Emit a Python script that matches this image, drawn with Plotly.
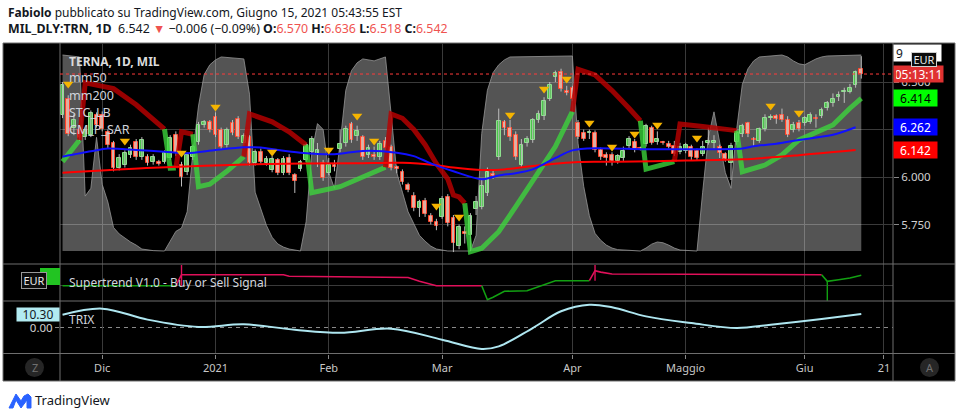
import plotly.graph_objects as go
import pandas as pd

W, H = 962, 418
def px(x): return x / W
def py(y): return 1 - y / H

# ---------------- calendar / ticks ----------------
holidays = ["2020-12-24", "2020-12-25", "2020-12-31", "2021-01-01", "2021-04-02", "2021-04-05"]
cal = [d.strftime("%Y-%m-%d") for d in pd.bdate_range("2020-11-20", "2021-06-21")
       if d.strftime("%Y-%m-%d") not in holidays]
last_day = "2021-06-15"
tick_dates = ["2020-12-01", "2021-01-04", "2021-02-01", "2021-03-01", "2021-04-01", "2021-05-03", "2021-06-01", "2021-06-21"]
tick_labels = ["Dic", "2021", "Feb", "Mar", "Apr", "Maggio", "Giu", "21"]
price_ticks = [5.75, 6.0, 6.25, 6.5]
price_tick_text = ["5.750", "6.000", "", "6.500"]   # 6.250 is hidden behind the mm50 label

# ---------------- OHLC (TERNA, 1D) ----------------
opens = [6.326, 6.411, 6.258, 6.247, 6.211, 6.221, 6.326, 6.326, 6.237, 6.179,
         6.047, 6.063, 6.116, 6.184, 6.105, 6.105, 6.079, 6.079, 6.079, 6.100,
         6.221, 6.063, 6.026, 6.105, 6.184, 6.274, 6.289, 6.316, 6.247, 6.168,
         6.284, 6.305, 6.179, 6.211, 6.074, 6.132, 6.074, 6.037, 6.089, 6.021,
         6.100, 6.011, 6.042, 6.089, 6.132, 6.116, 6.074, 6.021, 6.063, 6.147,
         6.179, 6.279, 6.216, 6.211, 6.116, 6.116, 6.105, 6.189, 6.158, 6.053,
         6.026, 5.958, 5.900, 5.837, 5.874, 5.795, 5.763, 5.789, 5.895, 5.784,
         5.637, 5.711, 5.695, 5.832, 5.842, 5.916, 6.016, 6.105, 6.289, 6.258,
         6.221, 6.063, 6.179, 6.195, 6.300, 6.321, 6.411, 6.526, 6.553, 6.453,
         6.468, 6.284, 6.232, 6.232, 6.232, 6.142, 6.116, 6.116, 6.084, 6.100,
         6.163, 6.184, 6.153, 6.174, 6.258, 6.184, 6.184, 6.174, 6.163, 6.132,
         6.137, 6.158, 6.137, 6.121, 6.179, 6.179, 6.158, 6.121, 6.074, 6.184,
         6.226, 6.284, 6.200, 6.189, 6.253, 6.311, 6.321, 6.326, 6.300, 6.247,
         6.284, 6.284, 6.289, 6.311, 6.321, 6.363, 6.389, 6.421, 6.447, 6.447,
         6.484, 6.570]
closes = [6.484, 6.226, 6.300, 6.205, 6.247, 6.337, 6.274, 6.253, 6.168, 6.047,
          6.100, 6.126, 6.153, 6.105, 6.195, 6.074, 6.105, 6.068, 6.126, 6.205,
          6.126, 6.000, 6.116, 6.158, 6.274, 6.289, 6.247, 6.221, 6.158, 6.247,
          6.232, 6.211, 6.216, 6.074, 6.132, 6.079, 6.095, 6.095, 6.021, 6.095,
          6.021, 5.979, 6.079, 6.168, 6.200, 6.142, 5.995, 6.063, 6.053, 6.174,
          6.253, 6.195, 6.242, 6.105, 6.153, 6.105, 6.174, 6.153, 6.047, 6.042,
          5.974, 5.932, 5.837, 5.868, 5.805, 5.763, 5.742, 5.884, 5.758, 5.653,
          5.737, 5.700, 5.795, 5.868, 5.953, 6.026, 6.005, 6.295, 6.258, 6.211,
          6.105, 6.168, 6.200, 6.300, 6.332, 6.400, 6.484, 6.547, 6.463, 6.442,
          6.411, 6.211, 6.200, 6.237, 6.142, 6.105, 6.100, 6.084, 6.111, 6.137,
          6.200, 6.147, 6.147, 6.268, 6.179, 6.200, 6.179, 6.158, 6.121, 6.158,
          6.168, 6.105, 6.100, 6.158, 6.189, 6.189, 6.126, 6.095, 6.163, 6.232,
          6.268, 6.226, 6.195, 6.253, 6.311, 6.316, 6.305, 6.300, 6.221, 6.274,
          6.253, 6.311, 6.326, 6.305, 6.353, 6.389, 6.411, 6.432, 6.453, 6.468,
          6.553, 6.542]
highs = [6.50, 6.43, 6.33, 6.27, 6.26, 6.35, 6.34, 6.345, 6.25, 6.19,
         6.12, 6.14, 6.17, 6.20, 6.21, 6.12, 6.12, 6.09, 6.14, 6.22,
         6.24, 6.08, 6.13, 6.17, 6.29, 6.30, 6.30, 6.34, 6.26, 6.26,
         6.30, 6.32, 6.23, 6.22, 6.145, 6.15, 6.11, 6.11, 6.10, 6.11,
         6.12, 6.02, 6.09, 6.18, 6.215, 6.179, 6.09, 6.10, 6.09, 6.25,
         6.27, 6.29, 6.27, 6.22, 6.17, 6.16, 6.19, 6.21, 6.17, 6.06,
         6.04, 5.97, 5.92, 5.88, 5.89, 5.81, 5.78, 5.90, 5.91, 5.80,
         5.75, 5.74, 5.81, 5.90, 5.99, 6.05, 6.04, 6.36, 6.30, 6.30,
         6.24, 6.20, 6.215, 6.31, 6.35, 6.42, 6.50, 6.56, 6.57, 6.48,
         6.48, 6.30, 6.25, 6.25, 6.245, 6.155, 6.13, 6.13, 6.12, 6.16,
         6.215, 6.20, 6.16, 6.28, 6.27, 6.24, 6.19, 6.19, 6.19, 6.18,
         6.18, 6.17, 6.15, 6.19, 6.26, 6.22, 6.17, 6.13, 6.18, 6.245,
         6.28, 6.29, 6.21, 6.26, 6.33, 6.33, 6.33, 6.36, 6.32, 6.29,
         6.30, 6.32, 6.34, 6.33, 6.365, 6.40, 6.44, 6.45, 6.47, 6.49,
         6.56, 6.636]
lows = [6.31, 6.215, 6.22, 6.19, 6.195, 6.21, 6.26, 6.24, 6.15, 6.03,
        6.035, 6.05, 6.10, 6.09, 6.09, 6.06, 6.065, 6.06, 6.07, 6.09,
        6.11, 5.95, 6.01, 6.09, 6.17, 6.26, 6.235, 6.21, 6.145, 6.155,
        6.22, 6.20, 6.165, 6.06, 6.06, 6.07, 6.06, 6.025, 6.01, 6.01,
        6.01, 5.916, 6.03, 6.08, 6.12, 6.053, 5.98, 6.01, 6.03, 6.13,
        6.16, 6.18, 6.19, 6.09, 6.10, 6.09, 6.09, 6.14, 6.035, 6.02,
        5.96, 5.92, 5.82, 5.79, 5.79, 5.75, 5.72, 5.78, 5.74, 5.605,
        5.62, 5.65, 5.61, 5.80, 5.83, 5.90, 5.99, 6.09, 6.22, 6.19,
        6.09, 6.05, 6.16, 6.18, 6.285, 6.30, 6.40, 6.50, 6.45, 6.43,
        6.40, 6.20, 6.19, 6.20, 6.13, 6.09, 6.06, 6.06, 6.07, 6.085,
        6.15, 6.13, 6.14, 6.16, 6.17, 6.17, 6.17, 6.15, 6.11, 6.12,
        6.125, 6.09, 6.09, 6.11, 6.17, 6.15, 6.10, 6.08, 5.984, 6.17,
        6.21, 6.21, 6.16, 6.18, 6.24, 6.30, 6.28, 6.29, 6.21, 6.235,
        6.24, 6.27, 6.28, 6.26, 6.31, 6.35, 6.37, 6.40, 6.39, 6.44,
        6.47, 6.518]

# ---------------- indicators (bar index, value) ----------------
mm50_idx = [0, 5, 8, 13, 18, 22, 27, 32, 35, 38, 42, 48, 53, 59, 62, 65, 69, 74, 77, 80, 83, 87, 90, 94, 103, 112, 120, 122, 126, 130, 136, 140]
mm50_val = [6.107, 6.135, 6.150, 6.142, 6.133, 6.125, 6.142, 6.156, 6.155, 6.142, 6.128, 6.120, 6.137, 6.128, 6.110, 6.072, 6.030, 5.988, 6.008, 6.020, 6.040, 6.100, 6.140, 6.151, 6.146, 6.146, 6.150, 6.162, 6.175, 6.195, 6.222, 6.262]

mm200_idx = [0, 16, 34, 52, 60, 66, 69, 74, 78, 83, 91, 98, 110, 120, 130, 140]
mm200_val = [6.023, 6.049, 6.067, 6.073, 6.075, 6.062, 6.050, 6.037, 6.040, 6.058, 6.079, 6.080, 6.087, 6.093, 6.115, 6.142]

# CM_P_SAR trailing line: direction 1 = bullish (green), -1 = bearish (red)
sar_idx = [0, 3, 4, 9, 13, 18, 19, 20, 21, 23, 24, 26, 29, 32, 33, 37, 40, 43, 44, 49, 57,
           58, 60, 62, 64, 66, 68, 69, 70, 71, 72, 74, 77, 80, 83, 87, 90,
           91, 94, 97, 100, 102, 103, 108, 109, 113, 119, 120, 124, 127, 130, 136, 139, 141]
sar_val = [6.081, 6.195, 6.496, 6.465, 6.380, 6.252, 6.046, 6.047, 6.238, 6.225, 5.949, 5.962, 6.030, 6.107,
           6.332, 6.290, 6.238, 6.168, 5.917, 5.949, 6.051,
           6.332, 6.309, 6.250, 6.170, 6.070, 5.990, 5.905, 5.895, 5.862, 5.607, 5.625, 5.712, 5.844, 5.984, 6.160, 6.344,
           6.567, 6.537, 6.455, 6.362, 6.296, 6.041, 6.081, 6.279, 6.266, 6.244, 6.028, 6.063, 6.116, 6.195, 6.274, 6.362, 6.414]
sar_dir = [1, 1, -1, -1, -1, -1, 1, 1, -1, -1, 1, 1, 1, 1, -1, -1, -1, -1, 1, 1, 1,
           -1, -1, -1, -1, -1, -1, -1, -1, -1, 1, 1, 1, 1, 1, 1, 1,
           -1, -1, -1, -1, -1, 1, 1, -1, -1, -1, 1, 1, 1, 1, 1, 1, 1]

# STC_LB oscillator (0..100)
stc_idx = [0, 3, 4, 5, 6, 7, 8, 9, 10, 11, 12, 13, 14, 16, 18, 19, 20, 21, 22, 23, 24, 25, 26, 27, 28, 32, 33, 34, 35, 36,
           37, 38, 39, 40, 42, 43, 44, 45, 46, 47, 48, 49, 50, 51, 52, 53, 55, 56, 57, 58, 59, 60, 61, 62, 63, 64, 65, 66,
           68, 72, 73, 74, 75, 76, 77, 78, 79, 90, 91, 92, 93, 94, 95, 96, 97, 98, 101, 102, 103, 104, 105, 106, 107, 108,
           109, 112, 113, 114, 115, 116, 117, 118, 119, 120, 121, 122, 123, 127, 128, 129, 130, 131, 132, 133, 134, 135, 141]
stc_val = [100, 99, 28, 32, 58, 34, 25, 12, 8.7, 6.6, 4.6, 3, 1, 0.2, 0, 5, 10, 11.7, 20, 50, 74, 90, 95, 97.5, 99, 98, 80, 30, 22, 13,
           7, 3.6, 2, 1, 0, 15, 50, 65, 62, 40, 32, 55, 82, 92, 96, 98, 97, 98, 99, 70, 40, 30, 20, 14, 8, 5, 2.5, 1,
           0, 0, 8, 60, 82, 91, 95, 97.5, 99, 99.5, 55, 33, 18, 9, 5.5, 3, 1.5, 0.7, 0, 0, 1.5, 3.5, 4.6, 4.2, 3, 1.5,
           0.5, 0, 30, 58, 71, 55, 40, 32, 62, 85, 93, 97, 99, 100, 99, 97, 95.5, 95, 96.5, 98, 99, 99.5, 100]

# yellow signal triangles (bar index, price)
sig_idx = [1, 11, 21, 27, 37, 47, 52, 55, 66, 70, 79, 85, 89, 93, 97, 101, 105, 112, 125, 130]
sig_price = [6.489, 6.189, 6.126, 6.368, 6.132, 6.142, 6.321, 6.189, 5.847, 5.789, 6.326, 6.463, 6.516, 6.284, 6.158, 6.226, 6.274, 6.205, 6.374, 6.337]

# Supertrend V1.0 pane (normalised pane units)
st_idx = [0, 20, 21, 39, 40, 61, 63, 66, 74, 75, 76, 78, 82, 87, 93, 94, 95, 97, 134, 135, 137, 139, 141]
st_val = [0.403, 0.403, 0.692, 0.690, 0.650, 0.620, 0.518, 0.403, 0.403, 0.034, 0.100, 0.255, 0.271, 0.534, 0.534, 0.800, 0.760, 0.711, 0.692, 0.518, 0.560, 0.605, 0.676]
st_dir = [1, 1, -1, -1, -1, -1, -1, -1, -1, 1, 1, 1, 1, 1, 1, -1, -1, -1, -1, 1, 1, 1, 1]
st_sig_idx = [21, 94, 135]
st_sig_from = [0.403, 0.534, 0.518]
st_sig_to = [0.947, 0.947, 0.008]
st_sig_dir = [-1, -1, 1]

# TRIX pane
trix_idx = [0, 7, 15, 24, 32, 41, 49, 58, 67, 74, 77, 83, 88, 93, 97, 103, 111, 119, 125, 134, 141]
trix_val = [9.8, 14.4, 6.0, 0.4, 2.4, -1.7, -4.0, -0.9, -9.3, -16.4, -14.4, -0.4, 12.4, 17.4, 15.4, 8.5, 3.4, -0.4, 2.1, 6.5, 10.3]

last_close = 6.542

# ---------------- derived ----------------
n_bars = cal.index(last_day) + 1
idx = list(range(n_bars))
tick_idx = [cal.index(t) for t in tick_dates]

GRID = "#3a3a3a"
SEP = "#6e6e6e"
TXT = "#d1d4dc"
FONT = "Noto Sans"

fig = go.Figure()

# STC gray area (base axis of main pane)
fig.add_trace(go.Scatter(x=stc_idx, y=stc_val, mode="lines", fill="tozeroy",
                         line=dict(color="rgba(150,150,150,0.8)", width=1),
                         fillcolor="rgba(255,255,255,0.33)", xaxis="x", yaxis="y", hoverinfo="skip"))

# wicks
wx, wy = [], []
for i in idx:
    wx += [i, i, None]
    wy += [lows[i], highs[i], None]
fig.add_trace(go.Scatter(x=wx, y=wy, mode="lines", line=dict(color="#bdbdbd", width=1),
                         xaxis="x", yaxis="y5", hoverinfo="skip"))

# bodies
for up in (True, False):
    sel = [i for i in idx if (closes[i] >= opens[i]) == up]
    base = [min(opens[i], closes[i]) for i in sel]
    hgt = [max(abs(closes[i] - opens[i]), 0.0055) for i in sel]
    fig.add_trace(go.Bar(x=sel, y=hgt, base=base, width=0.66,
                         marker=dict(color="#4cc34c" if up else "#f7a48e",
                                     line=dict(color="#8ee08e" if up else "#ff4128", width=1)),
                         xaxis="x", yaxis="y5", hoverinfo="skip"))

# thick CM_P_SAR line, one trace per direction run (transition drawn in new colour)
def runs(ix, vals, dirs):
    out = []
    start = 0
    for k in range(1, len(ix) + 1):
        if k == len(ix) or dirs[k] != dirs[start]:
            s = max(start - 1, 0)
            out.append((ix[s:k], vals[s:k], dirs[start]))
            start = k
    return out

for xs, ys, d in runs(sar_idx, sar_val, sar_dir):
    fig.add_trace(go.Scatter(x=xs, y=ys, mode="lines",
                             line=dict(color="rgba(60,215,60,0.78)" if d > 0 else "rgba(185,0,0,0.82)", width=5),
                             xaxis="x", yaxis="y5", hoverinfo="skip"))

fig.add_trace(go.Scatter(x=mm200_idx, y=mm200_val, mode="lines", line=dict(color="#ff0000", width=2, shape="spline", smoothing=0.8),
                         xaxis="x", yaxis="y5", hoverinfo="skip"))
fig.add_trace(go.Scatter(x=mm50_idx, y=mm50_val, mode="lines", line=dict(color="#1010ff", width=2, shape="spline", smoothing=0.8),
                         xaxis="x", yaxis="y5", hoverinfo="skip"))
fig.add_trace(go.Scatter(x=sig_idx, y=sig_price, mode="markers",
                         marker=dict(symbol="triangle-down", size=9, color="#f5b400", line=dict(width=0)),
                         xaxis="x", yaxis="y5", hoverinfo="skip"))

# Supertrend pane
for xs, ys, d in runs(st_idx, st_val, st_dir):
    fig.add_trace(go.Scatter(x=xs, y=ys, mode="lines",
                             line=dict(color="#12a012" if d > 0 else "#e0105a", width=1.6),
                             xaxis="x2", yaxis="y2", hoverinfo="skip"))
for k in range(len(st_sig_idx)):
    fig.add_trace(go.Scatter(x=[st_sig_idx[k], st_sig_idx[k]], y=[st_sig_from[k], st_sig_to[k]], mode="lines",
                             line=dict(color="#12a012" if st_sig_dir[k] > 0 else "#e0105a", width=1.4),
                             xaxis="x2", yaxis="y2", hoverinfo="skip"))

# TRIX pane
fig.add_trace(go.Scatter(x=trix_idx, y=trix_val, mode="lines",
                         line=dict(color="#aee6f0", width=2, shape="spline", smoothing=1.0),
                         xaxis="x3", yaxis="y3", hoverinfo="skip"))

# ---------------- layout ----------------
xr = [-0.45, 146.6]
xdom = [px(60), px(893)]
main_dom = [py(264), py(43)]
st_dom = [py(301), py(264)]
trix_dom = [py(353.5), py(301)]
xcommon = dict(domain=xdom, range=xr, tickvals=tick_idx, showgrid=True, gridcolor=GRID, gridwidth=1,
               zeroline=False, showline=False, fixedrange=True)

shapes = [
    dict(type="rect", xref="paper", yref="paper", x0=px(3), x1=px(955), y0=py(381), y1=py(43),
         fillcolor="black", line=dict(color=SEP, width=1), layer="below"),
]
for yy in (264, 301, 353.5):
    shapes.append(dict(type="line", xref="paper", yref="paper", x0=px(3), x1=px(955), y0=py(yy), y1=py(yy),
                       line=dict(color=SEP, width=1), layer="above"))
for xx in (60, 893):
    shapes.append(dict(type="line", xref="paper", yref="paper", x0=px(xx), x1=px(xx), y0=py(43), y1=py(381),
                       line=dict(color=SEP, width=1), layer="above"))
shapes += [
    dict(type="line", xref="paper", yref="y5", x0=px(60), x1=px(893), y0=last_close, y1=last_close,
         line=dict(color="#ff3b3b", width=1, dash="dot"), layer="above"),
    dict(type="line", xref="paper", yref="y3", x0=px(60), x1=px(893), y0=0, y1=0,
         line=dict(color="#8a8a8a", width=1, dash="4px,4px"), layer="below"),
    dict(type="rect", xref="paper", yref="paper", x0=px(40), x1=px(60), y0=py(285), y1=py(268),
         fillcolor="#22c422", line=dict(width=0), layer="above"),
    dict(type="circle", xref="paper", yref="paper", x0=px(25), x1=px(44), y0=py(377), y1=py(358),
         fillcolor="#262626", line=dict(width=0), layer="above"),
    dict(type="circle", xref="paper", yref="paper", x0=px(920), x1=px(939), y0=py(377), y1=py(358),
         fillcolor="#262626", line=dict(width=0), layer="above"),
]
logo_pts = [(9, 408), (16, 394), (21, 401), (24, 396), (28, 394), (31, 397), (31, 408), (27, 408), (27, 400), (24, 404), (21, 408), (16, 400), (13, 408)]
logo_path = "M " + " L ".join(f"{px(a):.5f},{py(b):.5f}" for a, b in logo_pts) + " Z"
shapes.append(dict(type="path", xref="paper", yref="paper", path=logo_path, fillcolor="#2962ff",
                   line=dict(color="#2962ff", width=1), layer="above"))

RED = "#ef5350"
ann = []
def txt(x, y, s, size=12, color=TXT, xanchor="left", bold=False, family=FONT):
    ann.append(dict(x=px(x), y=py(y), xref="paper", yref="paper", text=(f"<b>{s}</b>" if bold else s),
                    showarrow=False, xanchor=xanchor, yanchor="middle",
                    font=dict(size=size, color=color, family=family)))

txt(6, 12, "<b>Fabiolo</b> pubblicato su TradingView.com, Giugno 15, 2021 05:43:55 EST", size=12, color="#131722")
line2 = (f"<b>MIL_DLY:TRN, 1D</b>  6.542 <span style=\"color:{RED}\">▼</span> −0.006 (−0.09%) "
         f"<b>O:</b><span style=\"color:{RED}\">6.570</span> <b>H:</b><span style=\"color:{RED}\">6.636</span> "
         f"<b>L:</b><span style=\"color:{RED}\">6.518</span> <b>C:</b><span style=\"color:{RED}\">6.542</span>")
txt(6, 29, line2, size=12.4, color="#131722")
txt(33, 400, "TradingView", size=13, color="#131722")

txt(67, 61, "TERNA, 1D, MIL", size=12, color="#dcdcdc", bold=True)
txt(67, 78, "mm50", size=12.5)
txt(67, 95, "mm200", size=12.5)
txt(67, 112, "STC_LB", size=12.5)
txt(67, 129, "CM_P_SAR", size=12.5)
txt(67, 282, "Supertrend V1.0 - Buy or Sell Signal", size=12)
txt(67, 319, "TRIX", size=12)
txt(34.5, 367, "Z", size=11, color="#707070", xanchor="center")
txt(929.5, 367, "A", size=11, color="#707070", xanchor="center")

def label(y, yref, s, bg, fg, xpx=893, xanchor="left", w=39, h=12, align="center", pad=2):
    ann.append(dict(x=px(xpx), y=y, xref="paper", yref=yref, text=s, showarrow=False,
                    xanchor=xanchor, yanchor="middle", bgcolor=bg, borderpad=pad, width=w, height=h,
                    font=dict(size=12, color=fg, family=FONT), align=align))

label(101, "y", "9", "#ffffff", "#131722", w=43, h=12, align="left")
label(last_close, "y5", "05:13:11", "#e03131", "#ffffff", w=45, h=12)
label(sar_val[-1], "y5", f"{sar_val[-1]:.3f}", "#00ff00", "#000000")
label(mm50_val[-1], "y5", f"{mm50_val[-1]:.3f}", "#0000ff", "#ffffff")
label(mm200_val[-1], "y5", f"{mm200_val[-1]:.3f}", "#ff0000", "#ffffff")
ann.append(dict(x=px(911), y=py(59.5), xref="paper", yref="paper", text="EUR", showarrow=False,
                xanchor="left", yanchor="middle", bgcolor="#0c0c0c", bordercolor="#d0d0d0", borderwidth=1,
                borderpad=1, width=22, height=11, font=dict(size=11, color="#e8e8e8", family=FONT)))
ann.append(dict(x=px(21), y=py(280), xref="paper", yref="paper", text="EUR", showarrow=False,
                xanchor="left", yanchor="middle", bgcolor="#0c0c0c", bordercolor="#9a9a9a", borderwidth=1,
                borderpad=1, width=22, height=13, font=dict(size=11, color="#e8e8e8", family=FONT)))
label(trix_val[-1], "y3", f"{trix_val[-1]:.2f}", "#b2ebf2", "#131722", xpx=60, xanchor="right", w=39, h=10, pad=1.5)

fig.update_layout(
    width=W, height=H, margin=dict(l=0, r=0, t=0, b=0),
    paper_bgcolor="white", plot_bgcolor="rgba(0,0,0,0)",
    showlegend=False, barmode="overlay", bargap=0,
    xaxis=dict(**xcommon, anchor="y", showticklabels=False, ticks=""),
    xaxis2=dict(**xcommon, anchor="y2", matches="x", showticklabels=False, ticks=""),
    xaxis3=dict(**xcommon, anchor="y3", matches="x", showticklabels=True, ticktext=tick_labels,
                ticks="outside", ticklen=4, tickcolor="#888888",
                tickfont=dict(size=11, color="#c8c8c8", family=FONT)),
    yaxis=dict(domain=main_dom, range=[-6.63, 106.12], anchor="x", showgrid=False, showticklabels=False,
               zeroline=False, fixedrange=True),
    yaxis5=dict(overlaying="y", anchor="free", position=px(893), side="right",
                range=[5.5421, 6.7053], tickvals=price_ticks, ticktext=price_tick_text,
                ticks="outside", ticklen=5, tickcolor="#888888", showgrid=True, gridcolor=GRID,
                zeroline=False, showline=False, fixedrange=True,
                tickfont=dict(size=11.5, color="#d0d0d0", family=FONT)),
    yaxis2=dict(domain=st_dom, range=[0, 0.974], anchor="x2", tickvals=[0.395], showticklabels=False,
                showgrid=True, gridcolor=GRID, zeroline=False, fixedrange=True, ticks=""),
    yaxis3=dict(domain=trix_dom, range=[-19.85, 20.23], anchor="x3", side="left", tickvals=[0],
                tickformat=".2f", ticks="outside", ticklen=4, tickcolor="#888888", showgrid=False,
                zeroline=False, fixedrange=True, tickfont=dict(size=11.5, color="#d0d0d0", family=FONT)),
    shapes=shapes, annotations=ann,
)

fig.write_html("out.html", config={"displayModeBar": False},
               post_script="document.body.style.margin='0px';document.body.style.overflow='hidden';")
